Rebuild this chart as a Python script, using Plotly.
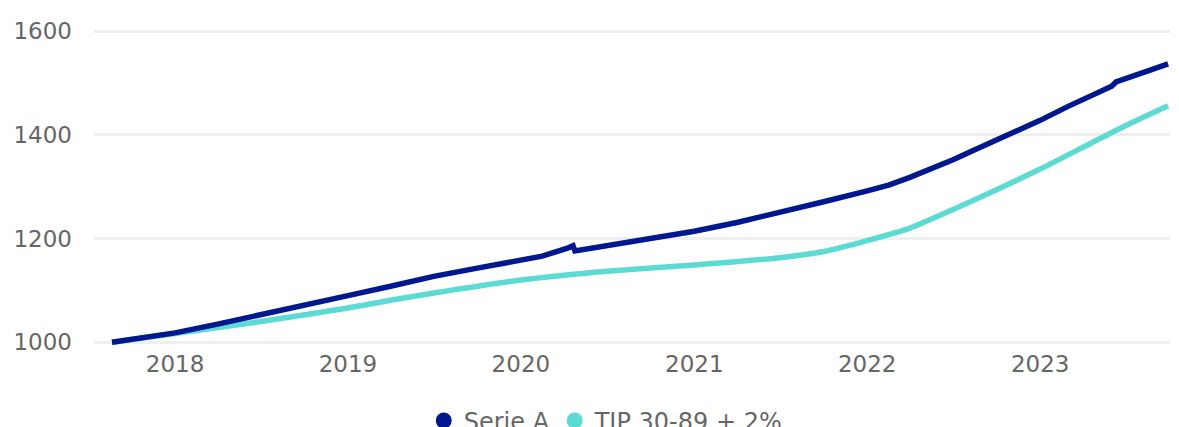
import plotly.graph_objects as go

# values
serie_a_dates = [
    "2017-08-21", "2017-10-01", "2018-01-01", "2018-04-01", "2018-07-01",
    "2018-10-01", "2019-01-01", "2019-04-01", "2019-07-01", "2019-10-01",
    "2020-01-01", "2020-02-15", "2020-04-10", "2020-04-20", "2020-04-24",
    "2020-07-01", "2020-07-10", "2020-10-01", "2021-01-01", "2021-04-01",
    "2021-07-01", "2021-10-01", "2022-01-01", "2022-02-15", "2022-04-01",
    "2022-05-15", "2022-07-01", "2022-08-15", "2022-10-01", "2022-11-15",
    "2023-01-01", "2023-03-01", "2023-05-15", "2023-06-01", "2023-06-10",
    "2023-07-01", "2023-08-15", "2023-09-28",
]
serie_a_values = [
    1000, 1006, 1018, 1035, 1054,
    1071, 1090, 1108, 1127, 1143,
    1157, 1166, 1182, 1186, 1176,
    1186, 1189, 1200, 1214, 1231,
    1250, 1271, 1292, 1303, 1318,
    1334, 1352, 1371, 1390, 1409,
    1428, 1455, 1488, 1494, 1502,
    1508, 1523, 1537,
]

tip_dates = [
    "2017-08-21", "2018-01-01", "2018-07-01", "2019-01-01", "2019-04-01",
    "2019-07-01", "2020-01-01", "2020-07-01", "2021-01-01", "2021-07-01",
    "2021-10-01", "2022-01-01", "2022-04-01", "2022-07-01", "2022-10-01",
    "2023-01-01", "2023-04-01", "2023-07-01", "2023-09-28",
]
tip_values = [
    1000, 1017, 1040, 1066, 1081,
    1095, 1120, 1137, 1149, 1163,
    1175, 1196, 1220, 1256, 1294,
    1334, 1376, 1418, 1456,
]

series_names = ["Serie A", "TIP 30-89 + 2%"]
series_colors = ["#00188f", "#5cdbd5"]
y_ticks = [1000, 1200, 1400, 1600]

font_family = "DejaVu Sans"
grey = "#666666"

fig = go.Figure()
fig.add_trace(go.Scatter(x=tip_dates, y=tip_values, mode="lines",
                         line=dict(color=series_colors[1], width=5.5, shape="spline", smoothing=0.6),
                         name=series_names[1], showlegend=False))
fig.add_trace(go.Scatter(x=serie_a_dates, y=serie_a_values, mode="lines",
                         line=dict(color=series_colors[0], width=5.5),
                         name=series_names[0], showlegend=False))

# legend entries drawn as circles
for name, color in zip(series_names, series_colors):
    fig.add_trace(go.Scatter(x=[None], y=[None], mode="markers", name=name,
                             marker=dict(color=color, size=21, symbol="circle")))

fig.update_layout(
    width=1179, height=427,
    margin=dict(l=86, r=17, t=17, b=85),
    plot_bgcolor="white", paper_bgcolor="white",
    font=dict(family=font_family, size=23, color=grey),
    legend=dict(orientation="h", xref="container", x=0.507, xanchor="center",
                yref="container", y=0.033, yanchor="middle",
                font=dict(size=24, color=grey), itemwidth=30,
                tracegroupgap=0),
    xaxis=dict(range=["2017-07-14", "2023-10-02"], dtick="M12",
               tick0="2018-01-01", tickformat="%Y", showgrid=False,
               zeroline=False, showline=False, ticks="", automargin=False,
               ticklabelstandoff=-2),
    yaxis=dict(range=[985, 1612], tickvals=y_ticks, showgrid=True,
               gridcolor="#efefef", gridwidth=3, zeroline=False,
               showline=False, ticks="", ticklabelstandoff=21,
               automargin=False),
)

fig.write_html("out.html")
